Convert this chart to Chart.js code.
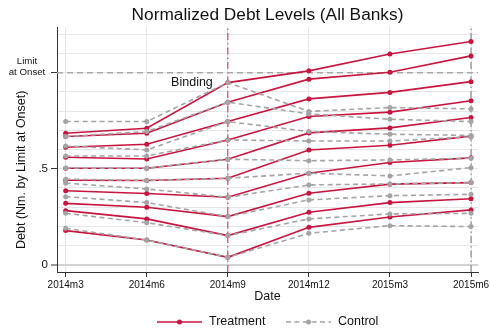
<!DOCTYPE html>
<html>
<head>
<meta charset="utf-8">
<script src="https://cdn.jsdelivr.net/npm/chart.js@4"></script>
<style>
  html, body { margin: 0; padding: 0; background: #fff; }
  #wrap { width: 490px; height: 329px; }
</style>
</head>
<body>
<div id="wrap"><canvas id="debtChart" width="490" height="329"></canvas></div>
<script>
// quarters on the x axis
const dates = ['2014m3', '2014m6', '2014m9', '2014m12', '2015m3', '2015m6'];

// one row per bank group, debt normalised by the limit at onset
const treatment = [
    [0.685, 0.711, 0.949, 1.010, 1.098, 1.163],
    [0.668, 0.685, 0.847, 0.967, 1.003, 1.088],
    [0.612, 0.628, 0.746, 0.864, 0.898, 0.954],
    [0.560, 0.551, 0.650, 0.772, 0.795, 0.854],
    [0.503, 0.503, 0.550, 0.687, 0.713, 0.767],
    [0.440, 0.439, 0.451, 0.598, 0.623, 0.670],
    [0.386, 0.371, 0.352, 0.477, 0.533, 0.557],
    [0.320, 0.300, 0.251, 0.373, 0.420, 0.428],
    [0.282, 0.239, 0.152, 0.274, 0.324, 0.344],
    [0.178, 0.129, 0.039, 0.195, 0.249, 0.286]
];

const control = [
    [0.746, 0.746, 0.949, 0.799, 0.819, 0.812],
    [0.668, 0.694, 0.847, 0.786, 0.758, 0.746],
    [0.619, 0.598, 0.746, 0.694, 0.680, 0.674],
    [0.567, 0.567, 0.650, 0.645, 0.645, 0.666],
    [0.504, 0.503, 0.550, 0.542, 0.546, 0.555],
    [0.446, 0.439, 0.451, 0.477, 0.463, 0.506],
    [0.425, 0.395, 0.352, 0.416, 0.421, 0.428],
    [0.355, 0.324, 0.251, 0.338, 0.360, 0.367],
    [0.268, 0.219, 0.152, 0.239, 0.265, 0.268],
    [0.190, 0.129, 0.039, 0.164, 0.204, 0.199]
];

const limitLevel = 1;      // debt limit at onset
const bindingIndex = 2;    // 2014m9
const endIndex = 5;        // 2015m6

const RED = '#c8143f';
const GRAY = '#a4a4a4';
const FONT = '"Liberation Sans", Arial, Helvetica, sans-serif';

const X_MIN = -0.107, X_MAX = 5.086;
const Y_MIN = -0.0375, Y_MAX = 1.2385;

function toPoints(vals) {
    return vals.map((v, i) => ({ x: i, y: v }));
}

const datasets = [];

control.forEach(row => {
    datasets.push({
        data: toPoints(row),
        borderColor: GRAY,
        backgroundColor: GRAY,
        borderWidth: 1.6,
        borderDash: [5, 3.5],
        pointRadius: 2.5,
        pointBorderWidth: 0,
        order: 1
    });
});

treatment.forEach(row => {
    datasets.push({
        data: toPoints(row),
        borderColor: RED,
        backgroundColor: RED,
        borderWidth: 1.6,
        pointRadius: 2.5,
        pointBorderWidth: 0,
        order: 2
    });
});

// reference lines
datasets.push({
    data: [{ x: X_MIN, y: limitLevel }, { x: X_MAX, y: limitLevel }],
    borderColor: '#a8a8a8',
    borderWidth: 1.5,
    borderDash: [6, 4],
    pointRadius: 0,
    order: 5
});
datasets.push({
    data: [{ x: bindingIndex, y: Y_MIN }, { x: bindingIndex, y: Y_MAX }],
    borderColor: 'rgba(205, 40, 80, 0.85)',
    borderWidth: 1.2,
    borderDash: [7, 3, 1.5, 3],
    pointRadius: 0,
    order: 5
});
datasets.push({
    data: [{ x: endIndex, y: Y_MIN }, { x: endIndex, y: Y_MAX }],
    borderColor: '#8a8a8a',
    borderWidth: 1.2,
    borderDash: [7, 3, 1.5, 3],
    pointRadius: 0,
    order: 5
});

function isLabelled(v) {
    return [0, 0.5, 1].some(t => Math.abs(v - t) < 1e-9);
}

// title, axis title, side labels and legend
const annotations = {
    id: 'annotations',
    afterDraw(chart) {
        const { ctx, chartArea, scales: { x, y } } = chart;
        ctx.save();
        ctx.fillStyle = '#111';
        ctx.textBaseline = 'middle';

        ctx.textAlign = 'center';
        ctx.font = '17.3px ' + FONT;
        ctx.fillText('Normalized Debt Levels (All Banks)', (chartArea.left + chartArea.right) / 2, 15);

        const yLimit = y.getPixelForValue(limitLevel);
        ctx.font = '9.7px ' + FONT;
        ctx.fillText('Limit', 27, yLimit - 11.7);
        ctx.fillText('at Onset', 27, yLimit);

        ctx.save();
        ctx.translate(22, (y.getPixelForValue(0) + yLimit) / 2 + 1);
        ctx.rotate(-Math.PI / 2);
        ctx.font = '12.5px ' + FONT;
        ctx.fillText('Debt (Nm. by Limit at Onset)', 0, 0);
        ctx.restore();

        ctx.textAlign = 'right';
        ctx.font = '12.5px ' + FONT;
        ctx.fillText('Binding', x.getPixelForValue(bindingIndex) - 15, y.getPixelForValue(treatment[0][bindingIndex]) - 0.5);

        // legend
        const ly = 322;
        const items = [
            { label: 'Treatment', color: RED, dash: [], x0: 157 },
            { label: 'Control', color: GRAY, dash: [5, 3.5], x0: 286 }
        ];
        items.forEach(it => {
            ctx.strokeStyle = it.color;
            ctx.lineWidth = 1.6;
            ctx.setLineDash(it.dash);
            ctx.beginPath();
            ctx.moveTo(it.x0, ly);
            ctx.lineTo(it.x0 + 45, ly);
            ctx.stroke();
            ctx.setLineDash([]);
            ctx.fillStyle = it.color;
            ctx.beginPath();
            ctx.arc(it.x0 + 22.5, ly, 2.5, 0, Math.PI * 2);
            ctx.fill();
            ctx.fillStyle = '#111';
            ctx.textAlign = 'left';
            ctx.fillText(it.label, it.x0 + 52, ly);
        });
        ctx.restore();
    }
};

new Chart(document.getElementById('debtChart'), {
    type: 'line',
    data: { datasets: datasets },
    options: {
        responsive: false,
        animation: false,
        devicePixelRatio: 1,
        events: [],
        layout: { padding: { top: 27, right: 12, bottom: 23, left: 0 } },
        plugins: {
            legend: { display: false },
            tooltip: { enabled: false }
        },
        scales: {
            x: {
                type: 'linear',
                min: X_MIN,
                max: X_MAX,
                afterFit: s => { s.height = 34; s.paddingLeft = 0; s.paddingRight = 0; },
                border: { color: '#333', width: 1 },
                grid: { color: '#e6e6e6', tickColor: '#333', tickLength: 5, tickWidth: 1 },
                ticks: {
                    stepSize: 1,
                    includeBounds: false,
                    autoSkip: false,
                    maxRotation: 0,
                    padding: 2,
                    color: '#111',
                    font: { family: FONT, size: 10 },
                    callback: v => dates[v] || ''
                },
                title: {
                    display: true,
                    text: 'Date',
                    color: '#111',
                    font: { family: FONT, size: 12.5 },
                    padding: { top: 0, bottom: 1.5 }
                }
            },
            y: {
                min: Y_MIN,
                max: Y_MAX,
                afterFit: s => { s.width = 57; s.paddingTop = 0; s.paddingBottom = 0; },
                border: { color: '#333', width: 1 },
                grid: {
                    color: c => (c.tick && Math.abs(c.tick.value) < 1e-9) ? '#d2d2d2' : '#e6e6e6',
                    lineWidth: c => (c.tick && Math.abs(c.tick.value) < 1e-9) ? 2 : 1,
                    tickColor: c => (c.tick && isLabelled(c.tick.value)) ? '#333' : 'rgba(0,0,0,0)',
                    tickLength: 6,
                    tickWidth: 1
                },
                ticks: {
                    stepSize: 0.1,
                    includeBounds: false,
                    autoSkip: false,
                    padding: 3,
                    color: '#111',
                    font: { family: FONT, size: 11.5 },
                    callback: v => Math.abs(v) < 1e-9 ? '0' : (Math.abs(v - 0.5) < 1e-9 ? '.5' : '')
                }
            }
        }
    },
    plugins: [annotations]
});
</script>
</body>
</html>
